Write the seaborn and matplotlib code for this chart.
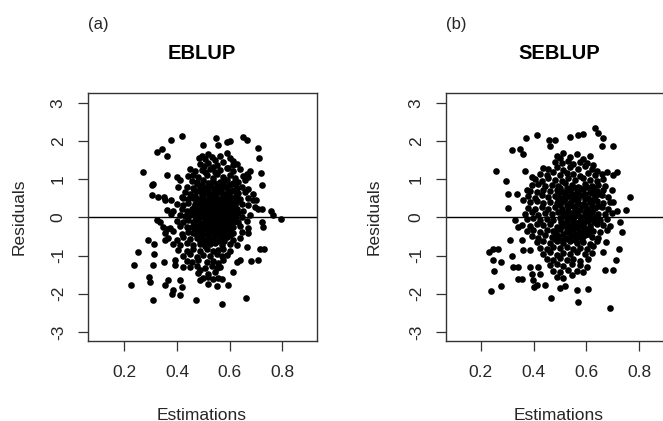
import numpy as np
import pandas as pd
import seaborn as sns
import matplotlib.pyplot as plt

sns.set_theme(style="white")
plt.rcParams['font.family'] = ['Liberation Sans', 'DejaVu Sans']

# Panel titles / labels
panel_tags = ["(a)", "(b)"]
panel_titles = ["EBLUP", "SEBLUP"]
x_ticks = [0.2, 0.4, 0.6, 0.8]
y_ticks = [-3, -2, -1, 0, 1, 2, 3]

# (estimation, residual)
eblup_points = [
    # scattered outer points
    (0.224, -1.78), (0.237, -1.24), (0.253, -0.90), (0.272, 1.19), (0.291, -0.60),
    (0.295, -1.56), (0.297, -1.69), (0.310, -2.17), (0.310, -1.26), (0.312, -0.95),
    (0.314, -0.69), (0.304, 0.58), (0.304, 0.84), (0.310, 0.88), (0.323, 1.71),
    (0.329, 0.53), (0.323, -0.08), (0.335, -0.12), (0.345, 1.80), (0.361, 1.62),
    (0.376, 2.03), (0.420, 2.12), (0.354, 0.45), (0.352, 0.53), (0.361, 1.10),
    (0.361, -0.30), (0.354, -0.60), (0.352, -1.17), (0.354, -1.78), (0.367, -1.65),
    (0.376, 0.10), (0.376, 0.45), (0.380, -2.00), (0.386, -1.91), (0.399, 1.06),
    (0.411, 0.97), (0.405, 0.79), (0.411, -1.65), (0.418, -1.83), (0.411, -2.04),
    (0.392, -1.13), (0.392, -1.26), (0.424, -1.30), (0.418, 0.53), (0.471, -2.17),
    (0.487, -1.65), (0.500, 1.89), (0.548, 2.09), (0.557, 1.89), (0.589, 1.97),
    (0.601, 2.00), (0.652, 2.10), (0.665, 2.02), (0.706, 1.82), (0.711, 1.55),
    (0.718, 1.16), (0.723, 0.84), (0.701, 0.45), (0.695, 0.27), (0.709, 0.23),
    (0.722, 0.23), (0.723, -0.12), (0.725, -0.25), (0.759, 0.17), (0.763, 0.05),
    (0.795, -0.05), (0.716, -0.82), (0.729, -0.82), (0.709, -1.11), (0.683, -1.14),
    (0.665, -0.78), (0.662, -2.11), (0.572, -2.26), (0.551, -1.81), (0.595, -1.76),
    (0.611, -1.43), (0.627, -1.17), (0.639, -1.13), (0.487, -1.37),
    # dense core
    (0.485, 1.55), (0.494, 1.60), (0.506, 1.52), (0.519, 1.65), (0.532, 1.58),
    (0.544, 1.50), (0.563, 1.62), (0.589, 1.68), (0.601, 1.55), (0.614, 1.48),
    (0.487, 1.40), (0.502, 1.35), (0.519, 1.42), (0.538, 1.33), (0.551, 1.38),
    (0.576, 1.45), (0.589, 1.30), (0.614, 1.36), (0.627, 1.40),
    (0.449, 1.28), (0.468, 1.22), (0.494, 1.25), (0.506, 1.18), (0.525, 1.27),
    (0.544, 1.20), (0.563, 1.24), (0.595, 1.30), (0.614, 1.21), (0.639, 1.26),
    (0.665, 1.15), (0.677, 1.22),
    (0.443, 1.08), (0.462, 1.12), (0.481, 1.05), (0.513, 1.10), (0.538, 1.03),
    (0.551, 1.14), (0.576, 1.07), (0.601, 1.11), (0.620, 1.02), (0.652, 1.09),
    (0.671, 1.06),
    (0.456, 0.95), (0.475, 0.92), (0.500, 0.98), (0.519, 0.90), (0.538, 0.96),
    (0.563, 0.93), (0.589, 0.99), (0.614, 0.91), (0.633, 0.94), (0.658, 0.97),
    (0.437, 0.80), (0.462, 0.77), (0.487, 0.83), (0.506, 0.78), (0.525, 0.82),
    (0.544, 0.76), (0.563, 0.81), (0.582, 0.79), (0.601, 0.84), (0.627, 0.78),
    (0.646, 0.80), (0.671, 0.75),
    (0.430, 0.66), (0.449, 0.62), (0.475, 0.68), (0.494, 0.63), (0.513, 0.65),
    (0.532, 0.61), (0.551, 0.67), (0.570, 0.64), (0.589, 0.62), (0.608, 0.68),
    (0.633, 0.63), (0.658, 0.66), (0.690, 0.60),
    (0.422, 0.50), (0.443, 0.47), (0.462, 0.52), (0.481, 0.48), (0.500, 0.51),
    (0.519, 0.46), (0.538, 0.53), (0.557, 0.49), (0.576, 0.50), (0.595, 0.47),
    (0.614, 0.52), (0.639, 0.48), (0.671, 0.51), (0.690, 0.46),
    (0.399, 0.36), (0.424, 0.33), (0.443, 0.38), (0.468, 0.34), (0.487, 0.35),
    (0.506, 0.32), (0.525, 0.37), (0.544, 0.33), (0.563, 0.36), (0.582, 0.34),
    (0.601, 0.38), (0.620, 0.32), (0.646, 0.35), (0.671, 0.33),
    (0.361, 0.20), (0.386, 0.17), (0.418, 0.22), (0.437, 0.18), (0.456, 0.21),
    (0.475, 0.19), (0.494, 0.23), (0.513, 0.17), (0.532, 0.20), (0.551, 0.22),
    (0.570, 0.18), (0.589, 0.21), (0.608, 0.19), (0.627, 0.23), (0.652, 0.18),
    (0.411, 0.05), (0.430, 0.03), (0.449, 0.07), (0.468, 0.04), (0.487, 0.06),
    (0.506, 0.02), (0.525, 0.05), (0.544, 0.08), (0.563, 0.03), (0.582, 0.06),
    (0.601, 0.04), (0.620, 0.07), (0.646, 0.02), (0.677, 0.05),
    (0.399, -0.10), (0.424, -0.13), (0.443, -0.08), (0.462, -0.11), (0.481, -0.09),
    (0.500, -0.14), (0.519, -0.10), (0.538, -0.07), (0.557, -0.12), (0.576, -0.10),
    (0.595, -0.08), (0.614, -0.13), (0.633, -0.11), (0.665, -0.09),
    (0.348, -0.25), (0.373, -0.28), (0.411, -0.22), (0.437, -0.26), (0.456, -0.24),
    (0.475, -0.29), (0.494, -0.23), (0.513, -0.27), (0.532, -0.25), (0.551, -0.21),
    (0.570, -0.28), (0.589, -0.24), (0.614, -0.26), (0.639, -0.22), (0.671, -0.27),
    (0.354, -0.40), (0.386, -0.37), (0.418, -0.43), (0.443, -0.39), (0.462, -0.41),
    (0.487, -0.36), (0.506, -0.42), (0.525, -0.38), (0.551, -0.44), (0.570, -0.40),
    (0.589, -0.37), (0.614, -0.42), (0.646, -0.39), (0.671, -0.41),
    (0.367, -0.55), (0.399, -0.58), (0.424, -0.52), (0.449, -0.56), (0.475, -0.54),
    (0.500, -0.59), (0.519, -0.53), (0.538, -0.57), (0.563, -0.55), (0.589, -0.51),
    (0.614, -0.58), (0.639, -0.54),
    (0.386, -0.70), (0.411, -0.73), (0.437, -0.68), (0.462, -0.72), (0.487, -0.69),
    (0.506, -0.74), (0.525, -0.71), (0.544, -0.67), (0.570, -0.72), (0.601, -0.70),
    (0.627, -0.73),
    (0.405, -0.85), (0.437, -0.88), (0.462, -0.83), (0.487, -0.87), (0.513, -0.84),
    (0.538, -0.89), (0.557, -0.86), (0.576, -0.82), (0.601, -0.87),
    (0.424, -1.00), (0.449, -0.97), (0.475, -1.03), (0.500, -0.99), (0.525, -1.02),
    (0.551, -0.96), (0.570, -1.01), (0.589, -0.98),
    (0.437, -1.15), (0.456, -1.18), (0.481, -1.12), (0.513, -1.17), (0.538, -1.14),
    (0.557, -1.19), (0.576, -1.13),
    (0.449, -1.30), (0.475, -1.27), (0.506, -1.33), (0.532, -1.28), (0.551, -1.32),
    (0.563, -1.29),
    (0.481, -1.45), (0.519, -1.48), (0.544, -1.43),
    (0.500, -1.60), (0.519, -1.57), (0.538, -1.62), (0.557, -1.58), (0.570, -1.61),
    (0.519, -1.75),
    # extra points filling the solid centre
    (0.478, 0.88), (0.497, 0.86), (0.528, 0.89), (0.553, 0.87), (0.575, 0.90),
    (0.598, 0.86), (0.622, 0.88),
    (0.466, 0.72), (0.490, 0.70), (0.516, 0.73), (0.541, 0.71), (0.566, 0.74),
    (0.592, 0.70), (0.617, 0.72),
    (0.470, 0.57), (0.496, 0.58), (0.522, 0.55), (0.548, 0.59), (0.573, 0.56),
    (0.598, 0.58), (0.624, 0.55),
    (0.476, 0.42), (0.497, 0.44), (0.515, 0.41), (0.535, 0.43), (0.553, 0.40),
    (0.573, 0.44), (0.592, 0.42), (0.612, 0.40), (0.632, 0.43),
    (0.466, 0.27), (0.485, 0.28), (0.504, 0.26), (0.522, 0.29), (0.541, 0.26),
    (0.560, 0.28), (0.580, 0.25), (0.598, 0.29), (0.618, 0.27),
    (0.458, 0.12), (0.478, 0.13), (0.497, 0.11), (0.516, 0.14), (0.535, 0.12),
    (0.554, 0.10), (0.573, 0.13), (0.592, 0.11), (0.611, 0.14), (0.632, 0.12),
    (0.472, -0.02), (0.491, 0.00), (0.510, -0.03), (0.529, -0.01), (0.548, -0.04),
    (0.567, 0.00), (0.586, -0.02), (0.605, -0.04), (0.624, -0.01),
    (0.466, -0.17), (0.485, -0.18), (0.504, -0.16), (0.523, -0.19), (0.542, -0.17),
    (0.561, -0.15), (0.580, -0.18), (0.600, -0.16),
    (0.470, -0.32), (0.496, -0.33), (0.516, -0.31), (0.540, -0.34), (0.560, -0.32),
    (0.580, -0.31), (0.602, -0.33),
    (0.476, -0.47), (0.496, -0.49), (0.516, -0.46), (0.540, -0.48), (0.560, -0.47),
    (0.580, -0.49), (0.602, -0.46),
    (0.488, -0.62), (0.512, -0.64), (0.532, -0.61), (0.555, -0.63), (0.578, -0.62),
]

# (estimation, residual)
seblup_points = [
    # scattered outer points
    (0.239, -1.93), (0.233, -0.91), (0.248, -0.82), (0.267, -0.82), (0.248, -1.11),
    (0.250, -1.41), (0.276, -1.17), (0.276, -1.81), (0.257, 1.21), (0.296, 0.95),
    (0.302, 0.60), (0.302, 0.25), (0.317, 1.76), (0.349, 1.80), (0.359, 1.67),
    (0.371, 2.08), (0.414, 2.15), (0.460, 2.04), (0.481, 2.02), (0.462, 1.86),
    (0.538, 2.10), (0.569, 2.15), (0.588, 2.19), (0.632, 2.35), (0.645, 2.21),
    (0.664, 2.09), (0.658, 1.87), (0.702, 1.87), (0.676, 1.19), (0.717, 1.19),
    (0.702, 1.10), (0.695, 0.71), (0.702, 0.40), (0.714, 0.18), (0.750, 0.20),
    (0.765, 0.53), (0.727, -0.12), (0.733, -0.38), (0.724, -0.82), (0.712, -1.13),
    (0.702, -1.37), (0.671, -1.37), (0.673, -0.65), (0.661, -0.91), (0.689, -2.37),
    (0.605, -1.87), (0.569, -2.22), (0.563, -1.91), (0.465, -2.11), (0.500, -1.84),
    (0.519, -1.81), (0.402, -1.83), (0.443, -1.78), (0.311, -0.60), (0.317, -1.00),
    (0.321, -1.30), (0.342, -1.30), (0.342, -1.61), (0.355, -1.61), (0.355, -0.60),
    (0.361, -0.85), (0.387, -0.85), (0.387, -1.30), (0.393, -1.48), (0.399, -1.65),
    (0.418, -1.30), (0.425, -1.48), (0.412, -1.78), (0.330, -0.08), (0.342, -0.25),
    (0.368, 1.21), (0.393, 1.07), (0.374, 0.71), (0.336, 0.62), (0.361, 0.45),
    # dense core
    (0.487, 1.62), (0.500, 1.55), (0.513, 1.68), (0.538, 1.58), (0.563, 1.65),
    (0.588, 1.52), (0.613, 1.60),
    (0.481, 1.45), (0.506, 1.42), (0.532, 1.48), (0.550, 1.40), (0.576, 1.46),
    (0.601, 1.43), (0.626, 1.38),
    (0.437, 1.30), (0.456, 1.27), (0.487, 1.33), (0.513, 1.25), (0.538, 1.31),
    (0.569, 1.28), (0.595, 1.34), (0.620, 1.26), (0.639, 1.22),
    (0.424, 1.15), (0.450, 1.12), (0.475, 1.18), (0.500, 1.10), (0.525, 1.16),
    (0.550, 1.13), (0.576, 1.08), (0.607, 1.17), (0.632, 1.11), (0.658, 1.14),
    (0.405, 1.00), (0.431, 0.96), (0.456, 1.03), (0.481, 0.98), (0.506, 0.95),
    (0.532, 1.02), (0.557, 0.97), (0.588, 1.04), (0.613, 0.99), (0.639, 0.95),
    (0.664, 1.01),
    (0.393, 0.85), (0.418, 0.88), (0.443, 0.82), (0.469, 0.86), (0.494, 0.83),
    (0.519, 0.89), (0.544, 0.84), (0.569, 0.80), (0.595, 0.87), (0.620, 0.83),
    (0.645, 0.86), (0.670, 0.81),
    (0.387, 0.70), (0.412, 0.67), (0.437, 0.73), (0.462, 0.68), (0.487, 0.72),
    (0.513, 0.66), (0.538, 0.71), (0.563, 0.69), (0.588, 0.74), (0.613, 0.67),
    (0.639, 0.70), (0.664, 0.72),
    (0.380, 0.55), (0.405, 0.52), (0.431, 0.58), (0.456, 0.53), (0.481, 0.56),
    (0.506, 0.51), (0.532, 0.57), (0.557, 0.54), (0.582, 0.59), (0.607, 0.52),
    (0.632, 0.55), (0.658, 0.58), (0.683, 0.53),
    (0.387, 0.40), (0.412, 0.43), (0.437, 0.37), (0.462, 0.41), (0.487, 0.38),
    (0.513, 0.44), (0.538, 0.39), (0.563, 0.42), (0.588, 0.36), (0.613, 0.41),
    (0.639, 0.43), (0.664, 0.38), (0.689, 0.40),
    (0.380, 0.25), (0.405, 0.22), (0.431, 0.28), (0.456, 0.23), (0.481, 0.26),
    (0.506, 0.21), (0.532, 0.27), (0.557, 0.24), (0.582, 0.29), (0.607, 0.22),
    (0.632, 0.25), (0.658, 0.28), (0.683, 0.23),
    (0.368, 0.10), (0.393, 0.13), (0.418, 0.07), (0.443, 0.11), (0.469, 0.08),
    (0.494, 0.14), (0.519, 0.09), (0.544, 0.12), (0.569, 0.06), (0.595, 0.11),
    (0.620, 0.13), (0.645, 0.08), (0.670, 0.10), (0.695, 0.12),
    (0.374, -0.05), (0.399, -0.02), (0.424, -0.08), (0.450, -0.03), (0.475, -0.06),
    (0.500, -0.01), (0.525, -0.07), (0.550, -0.04), (0.576, -0.09), (0.601, -0.02),
    (0.626, -0.05), (0.651, -0.08), (0.676, -0.03),
    (0.355, -0.20), (0.387, -0.23), (0.412, -0.17), (0.437, -0.21), (0.462, -0.18),
    (0.487, -0.24), (0.513, -0.19), (0.538, -0.22), (0.563, -0.16), (0.588, -0.21),
    (0.613, -0.23), (0.639, -0.18), (0.664, -0.20), (0.689, -0.22),
    (0.374, -0.35), (0.399, -0.32), (0.424, -0.38), (0.450, -0.33), (0.475, -0.36),
    (0.500, -0.31), (0.525, -0.37), (0.550, -0.34), (0.576, -0.39), (0.601, -0.32),
    (0.626, -0.35), (0.651, -0.38), (0.676, -0.33),
    (0.393, -0.50), (0.418, -0.53), (0.443, -0.47), (0.469, -0.51), (0.494, -0.48),
    (0.519, -0.54), (0.544, -0.49), (0.569, -0.52), (0.595, -0.46), (0.620, -0.51),
    (0.645, -0.53),
    (0.412, -0.65), (0.437, -0.62), (0.462, -0.68), (0.487, -0.63), (0.513, -0.66),
    (0.538, -0.61), (0.563, -0.67), (0.588, -0.64), (0.613, -0.69), (0.639, -0.62),
    (0.424, -0.80), (0.450, -0.83), (0.475, -0.77), (0.500, -0.81), (0.525, -0.78),
    (0.550, -0.84), (0.576, -0.79), (0.601, -0.82), (0.626, -0.76),
    (0.437, -0.95), (0.462, -0.92), (0.487, -0.98), (0.513, -0.93), (0.538, -0.96),
    (0.563, -0.91), (0.595, -0.97), (0.620, -0.94),
    (0.450, -1.10), (0.475, -1.13), (0.500, -1.07), (0.525, -1.11), (0.550, -1.08),
    (0.576, -1.14), (0.607, -1.09),
    (0.462, -1.25), (0.487, -1.22), (0.513, -1.28), (0.544, -1.23), (0.576, -1.26),
    (0.601, -1.29),
    (0.475, -1.40), (0.500, -1.43), (0.532, -1.37), (0.563, -1.41), (0.588, -1.44),
    (0.487, -1.55), (0.513, -1.58), (0.544, -1.52),
    # extra points filling the solid centre
    (0.500, 0.78), (0.525, 0.76), (0.550, 0.79), (0.576, 0.77), (0.601, 0.79),
    (0.626, 0.76),
    (0.494, 0.62), (0.519, 0.64), (0.544, 0.61), (0.569, 0.63), (0.595, 0.62),
    (0.620, 0.64), (0.645, 0.61),
    (0.494, 0.47), (0.519, 0.48), (0.544, 0.46), (0.569, 0.49), (0.595, 0.47),
    (0.620, 0.45),
    (0.500, 0.32), (0.525, 0.33), (0.550, 0.31), (0.570, 0.34), (0.595, 0.32),
    (0.620, 0.33), (0.645, 0.31),
    (0.506, 0.17), (0.530, 0.18), (0.555, 0.16), (0.575, 0.19), (0.598, 0.17),
    (0.622, 0.18),
    (0.510, 0.03), (0.535, 0.02), (0.557, 0.04), (0.580, 0.01), (0.600, 0.03),
    (0.614, 0.05), (0.638, 0.02),
    (0.505, -0.12), (0.528, -0.13), (0.550, -0.11), (0.570, -0.14), (0.590, -0.12),
    (0.605, -0.10), (0.628, -0.13),
    (0.500, -0.27), (0.525, -0.28), (0.548, -0.26), (0.568, -0.29), (0.590, -0.27),
    (0.612, -0.28),
    (0.485, -0.42), (0.510, -0.43), (0.535, -0.41), (0.560, -0.44), (0.583, -0.42),
    (0.606, -0.43),
    (0.480, -0.57), (0.505, -0.58), (0.530, -0.56), (0.556, -0.59), (0.582, -0.57),
]

W, H = 663, 421
fig = plt.figure(figsize=(W / 100, H / 100), dpi=100)
txt_col = '#262626'

# axes boxes in pixels: left, top, width, height
boxes = [(88, 93, 229, 248), (446, 93, 229, 248)]
xlims = [(0.062, 0.932), (0.069, 0.935)]
label_cx = [202, 559]
ylabel_x = [19, 374]
tag_x = [98, 456]

for i, pts in enumerate([eblup_points, seblup_points]):
    df = pd.DataFrame(pts, columns=["Estimations", "Residuals"])
    l, t, w, h = boxes[i]
    ax = fig.add_axes([l / W, 1 - (t + h) / H, w / W, h / H])
    sns.scatterplot(data=df, x="Estimations", y="Residuals", ax=ax,
                    color='black', s=23, linewidth=0, zorder=3)
    ax.axhline(0, color='black', lw=1, zorder=2)
    ax.set_xlim(*xlims[i])
    ax.set_ylim(-3.24, 3.26)
    ax.set_xticks(x_ticks)
    ax.set_xticklabels([f"{v:.1f}" for v in x_ticks])
    ax.set_yticks(y_ticks)
    ax.set_yticklabels([str(v) for v in y_ticks], rotation=90, va='center')
    ax.tick_params(axis='both', direction='out', length=7, width=0.9,
                   color='#333333', labelsize=12.5, labelcolor=txt_col,
                   bottom=True, left=True)
    ax.tick_params(axis='x', pad=10)
    ax.tick_params(axis='y', pad=9)
    ax.set_xlabel("")
    ax.set_ylabel("")
    for sp in ax.spines.values():
        sp.set_color('#333333')
        sp.set_linewidth(1)

    fig.text(tag_x[i] / W, 1 - 29 / H, panel_tags[i], ha='center', va='baseline',
             fontsize=12, color=txt_col)
    fig.text(label_cx[i] / W, 1 - 59 / H, panel_titles[i], ha='center', va='baseline',
             fontsize=14.5, fontweight='bold', color='black')
    fig.text(label_cx[i] / W, 1 - 419.5 / H, "Estimations", ha='center', va='baseline',
             fontsize=12.5, color=txt_col)
    fig.text(ylabel_x[i] / W, 1 - 217 / H, "Residuals", ha='center', va='center',
             rotation=90, fontsize=12.5, color=txt_col)

fig.savefig("out.png", dpi=100)
